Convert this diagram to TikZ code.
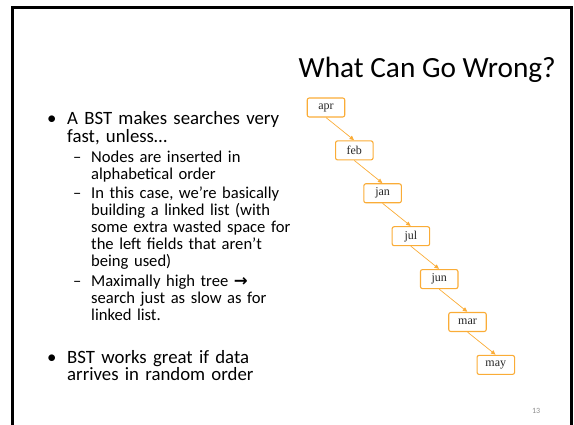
\documentclass[tikz,border=0pt]{standalone}
\usepackage{fontspec}
\setmainfont{Carlito}
\newfontfamily\keyfont{Liberation Serif}
\newfontfamily\symfont{DejaVu Sans}
\usetikzlibrary{arrows.meta}
\definecolor{keyorange}{RGB}{250,172,55}
\definecolor{pagegray}{RGB}{140,140,140}
\begin{document}
\begin{tikzpicture}[x=1pt,y=-1pt,
  keybox/.style={draw=keyorange, line width=1.1pt, rounded corners=2pt,
    minimum width=37.5pt, minimum height=19pt, inner sep=0pt,
    font=\keyfont\fontsize{12}{12}\selectfont, text=black!85},
  link/.style={draw=keyorange, line width=0.7pt,
    -{Triangle[length=4.5pt,width=4pt]}, shorten >=0.3pt},
  mainitem/.style={anchor=base west, inner sep=0pt, text width=240pt,
    align=left, font=\fontsize{18.8}{17.1}\selectfont},
  subitem/.style={anchor=base west, inner sep=0pt, text width=220pt,
    align=left, font=\fontsize{16.6}{16.8}\selectfont},
  mainmark/.style={anchor=base west, inner sep=0pt,
    font=\fontsize{18.8}{17.1}\selectfont},
  submark/.style={anchor=base west, inner sep=0pt,
    font=\fontsize{16.6}{16.8}\selectfont},
]
\useasboundingbox (0,0) rectangle (574,425);

% slide frame
\draw[line width=3pt, line join=miter] (12.5,425) -- (12.5,7.5) -- (571,7.5) -- (571,425);

% title
\node[anchor=base east, inner sep=0pt, font=\fontsize{29.3}{30}\selectfont] (title)
  at (556,78) {What Can Go Wrong?};

% first bullet
\node[mainmark] (b1) at (47,125) {•};
\node[mainitem] (b1t) at (67,125) {A BST makes searches very\\fast, unless…};

% sub bullets
\node[submark] (d1) at (73,162.7) {–};
\node[subitem] (d1t) at (91,162.7) {Nodes are inserted in\\alphabetical order};

\node[submark] (d2) at (73,199) {–};
\node[subitem] (d2t) at (91,199) {In this case, we’re basically\\building a linked list (with\\some extra wasted space for\\the left fields that aren’t\\being used)};

\node[submark] (d3) at (73,286.7) {–};
\node[subitem] (d3t) at (91,286.7) {Maximally high tree {\symfont\bfseries →}\\search just as slow as for\\linked list.};

% second bullet
\node[mainmark] (b2) at (47,363.3) {•};
\node[mainitem] (b2t) at (67,363.3) {BST works great if data\\arrives in random order};

% degenerate tree
\node[keybox] (apr) at (326,107.5) {apr};
\node[keybox] (feb) at (354.3,150.4) {feb};
\node[keybox] (jan) at (382.6,193.3) {jan};
\node[keybox] (jul) at (410.9,236.2) {jul};
\node[keybox] (jun) at (439.2,279.1) {jun};
\node[keybox] (mar) at (467.5,322) {mar};
\node[keybox] (may) at (495.8,364.9) {may};

\draw[link] (apr.south) -- (feb.north);
\draw[link] (feb.south) -- (jan.north);
\draw[link] (jan.south) -- (jul.north);
\draw[link] (jul.south) -- (jun.north);
\draw[link] (jun.south) -- (mar.north);
\draw[link] (mar.south) -- (may.north);

% page number
\node[anchor=base east, inner sep=0pt, text=pagegray, font=\fontsize{8}{8}\selectfont] (page)
  at (540.5,413.5) {13};
\end{tikzpicture}
\end{document}
